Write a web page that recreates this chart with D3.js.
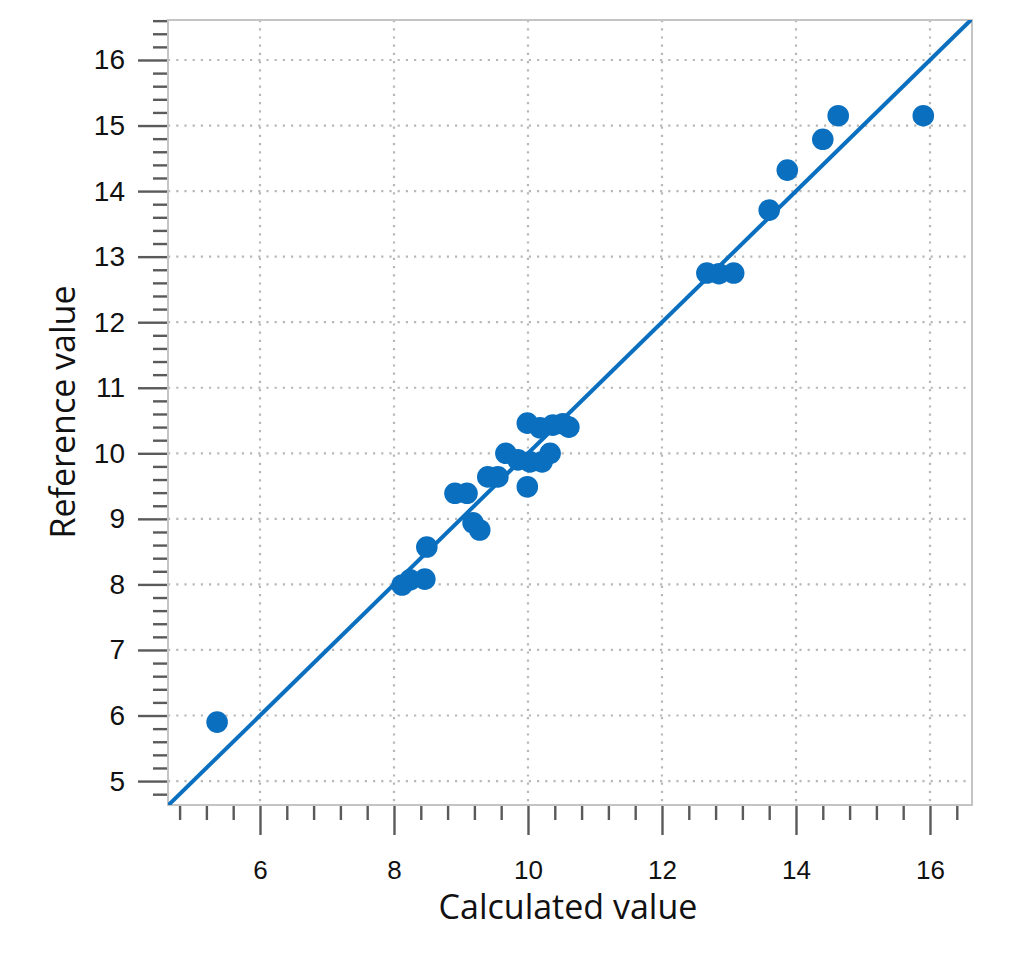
<!DOCTYPE html>
<html>
<head>
<meta charset="utf-8">
<script src="https://cdn.jsdelivr.net/npm/d3@7"></script>
<style>
  body { margin: 0; background: #fff; }
</style>
</head>
<body>
<div id="chart"></div>
<script>
// Data
const calculated = [5.36, 8.12, 8.24, 8.46, 8.49, 8.91, 9.09, 9.18, 9.28, 9.40,
                    9.55, 9.67, 9.85, 9.99, 10.03, 10.21, 10.33, 9.99, 10.18, 10.37,
                    10.52, 10.61, 12.67, 12.85, 13.07, 13.60, 13.87, 14.40, 14.63, 15.90];
const reference  = [5.90, 7.99, 8.07, 8.08, 8.57, 9.39, 9.39, 8.94, 8.83, 9.64,
                    9.64, 10.00, 9.90, 9.49, 9.87, 9.87, 10.00, 10.46, 10.39, 10.43,
                    10.45, 10.40, 12.75, 12.74, 12.75, 13.71, 14.32, 14.79, 15.15, 15.15];
const xTickValues = [6, 8, 10, 12, 14, 16];
const yTickValues = [5, 6, 7, 8, 9, 10, 11, 12, 13, 14, 15, 16];

const blue = "#0a6fbf";
const tickColor = "#5a5a5a";

function createChart() {
    const margin = { top: 20, right: 52, bottom: 155, left: 168 };
    const width = 1024 - margin.left - margin.right;
    const height = 960 - margin.top - margin.bottom;

    const svg = d3.select("#chart").append("svg")
        .attr("width", 1024)
        .attr("height", 960)
        .append("g")
        .attr("transform", `translate(${margin.left},${margin.top})`);

    // Skalor
    const x = d3.scaleLinear().domain([4.627, 16.627]).range([0, width]);
    const y = d3.scaleLinear().domain([4.635, 16.61]).range([height, 0]);

    // minor ticks
    const isMajor = (v, step) => Math.abs(v / step - Math.round(v / step)) < 1e-6;
    const xMinor = d3.range(12, 42).map(i => +(i * 0.4).toFixed(2)).filter(v => !isMajor(v, 2));
    const yMinor = d3.range(24, 84).map(i => +(i * 0.2).toFixed(2))
        .filter(v => !isMajor(v, 1) && v <= y.domain()[1]);

    // Grid
    const grid = svg.append("g").attr("class", "grid")
        .attr("stroke", "#b8b8b8")
        .attr("stroke-width", 2.2)
        .attr("stroke-dasharray", "2.2,6");
    grid.selectAll(".vg").data(xTickValues).enter().append("line")
        .attr("x1", d => x(d)).attr("x2", d => x(d))
        .attr("y1", 0).attr("y2", height);
    grid.selectAll(".hg").data(yTickValues).enter().append("line")
        .attr("x1", 0).attr("x2", width)
        .attr("y1", d => y(d)).attr("y2", d => y(d));

    // Ram
    svg.append("rect")
        .attr("width", width).attr("height", height)
        .attr("fill", "none")
        .attr("stroke", "#c4c4c4")
        .attr("stroke-width", 2);

    // Identitetslinje y = x
    svg.append("defs").append("clipPath").attr("id", "clip")
        .append("rect").attr("width", width).attr("height", height);
    const lo = 4.5, hi = 17;
    svg.append("line")
        .attr("clip-path", "url(#clip)")
        .attr("x1", x(lo)).attr("y1", y(lo))
        .attr("x2", x(hi)).attr("y2", y(hi))
        .attr("stroke", blue)
        .attr("stroke-width", 4);

    // Punkter
    svg.selectAll(".dot")
        .data(calculated)
        .enter().append("circle")
        .attr("class", "dot")
        .attr("cx", d => x(d))
        .attr("cy", (d, i) => y(reference[i]))
        .attr("r", 10.8)
        .attr("fill", blue);

    // Axlar
    function styleAxis(g) {
        g.select(".domain").remove();
        g.selectAll(".tick line").attr("stroke", tickColor).attr("stroke-width", 2.4);
        g.selectAll(".tick text")
            .attr("fill", "#111")
            .attr("font-family", "'Liberation Sans', Arial, sans-serif");
    }

    svg.append("g")
        .attr("transform", `translate(0,${height + 1})`)
        .call(d3.axisBottom(x).tickValues(xMinor).tickSize(14).tickFormat(""))
        .call(styleAxis);
    svg.append("g")
        .attr("transform", `translate(0,${height + 1})`)
        .call(d3.axisBottom(x).tickValues(xTickValues).tickSize(29).tickPadding(26).tickFormat(d3.format("d")))
        .call(styleAxis)
        .selectAll(".tick text").attr("font-size", 26);

    svg.append("g")
        .attr("transform", "translate(-1,0)")
        .call(d3.axisLeft(y).tickValues(yMinor).tickSize(14).tickFormat(""))
        .call(styleAxis);
    svg.append("g")
        .attr("transform", "translate(-1,0)")
        .call(d3.axisLeft(y).tickValues(yTickValues).tickSize(29).tickPadding(13).tickFormat(d3.format("d")))
        .call(styleAxis)
        .selectAll(".tick text").attr("font-size", 28);

    // Axeltitlar
    svg.append("text")
        .attr("x", 568 - margin.left)
        .attr("y", 919 - margin.top)
        .attr("text-anchor", "middle")
        .attr("font-family", "'Open Sans', 'Noto Sans', sans-serif")
        .attr("font-size", 34)
        .attr("fill", "#111")
        .text("Calculated value");

    svg.append("text")
        .attr("transform", `translate(${75 - margin.left},${412 - margin.top}) rotate(-90)`)
        .attr("text-anchor", "middle")
        .attr("font-family", "'Open Sans', 'Noto Sans', sans-serif")
        .attr("font-size", 34)
        .attr("fill", "#111")
        .text("Reference value");
}

createChart();
</script>
</body>
</html>
